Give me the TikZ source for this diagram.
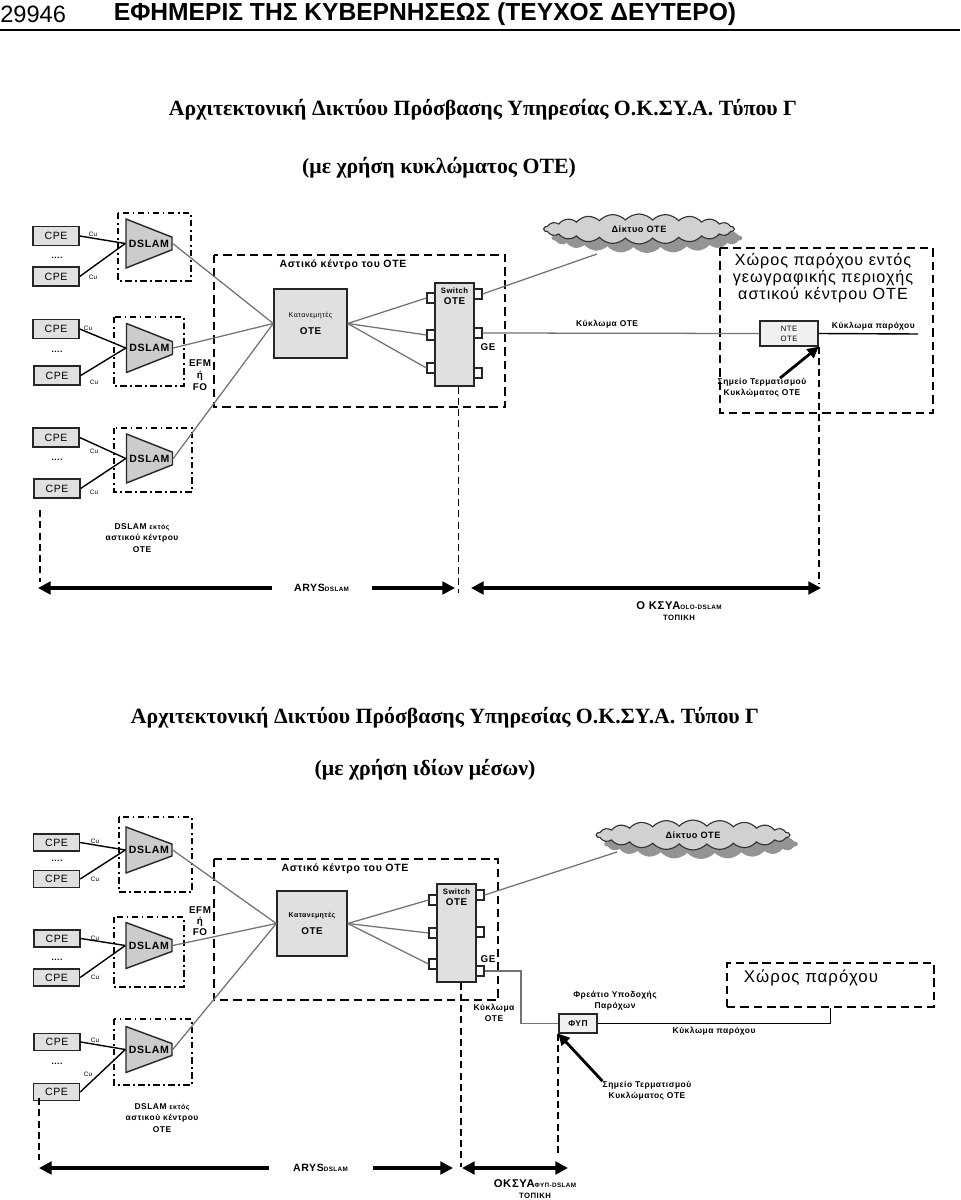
\documentclass[tikz,border=0pt]{standalone}
\usepackage{fontspec}
\setmainfont{Liberation Sans}
\newfontfamily\tserif{Liberation Serif}
\newfontfamily\vsans[LetterSpace=6]{Liberation Sans}
\usetikzlibrary{shapes.geometric,shapes.symbols,shadows,arrows.meta,positioning}

\newlength{\pix}
\setlength{\pix}{0.025cm}
\newcommand{\fsz}[2]{\fontsize{#1}{#2}\selectfont}

\tikzset{
  cpebox/.style={draw=black!85, line width=1pt, fill=black!12, minimum width=46\pix, minimum height=19\pix, inner sep=0pt, font=\vsans\fsz{7.5}{9}},
  dslambox/.style={trapezium, trapezium angle=75, trapezium stretches=true, shape border rotate=270, draw=black!85, line width=1pt, fill=black!20, minimum width=49\pix, minimum height=46\pix, inner sep=0pt, font=\vsans\bfseries\fsz{7.5}{9}},
  otebox/.style={draw=black!85, line width=1pt, fill=black!12, inner sep=0pt, align=center},
  portbox/.style={draw=black!85, line width=0.8pt, fill=white, minimum width=8\pix, minimum height=10\pix, inner sep=0pt},
  cloudnet/.style={cloud, cloud puffs=22, cloud puff arc=95, aspect=6, draw=black!80, line width=0.8pt, fill=black!18, minimum width=190\pix, minimum height=30\pix, inner sep=0pt, font=\vsans\bfseries\fsz{6.5}{8}, drop shadow={shadow xshift=8\pix, shadow yshift=-9\pix, fill=black!42, opacity=1}},
  cuwire/.style={draw=black, line width=1pt},
  fibre/.style={draw=black!55, line width=0.9pt},
  cityframe/.style={draw=black, line width=1.4pt, dash pattern=on 6pt off 3.5pt},
  dslamframe/.style={draw=black, line width=1.4pt, dash pattern=on 4.5pt off 2.5pt on 1.2pt off 2.5pt},
  guideline/.style={draw=black, line width=1.3pt, dash pattern=on 5pt off 3pt},
  dimarrow/.style={line width=2.2pt, {Triangle[length=9pt,width=9pt]}-{Triangle[length=9pt,width=9pt]}},
  termarrow/.style={line width=2pt, -{Triangle[length=8pt,width=8pt]}},
  lbl/.style={inner sep=0pt, align=center, font=\vsans\bfseries\fsz{6}{8}},
  cu/.style={inner sep=0pt, font=\vsans\fsz{4.5}{5}},
  titletext/.style={inner sep=0pt, font=\tserif\bfseries\fsz{15.5}{17}},
}

\begin{document}
\begin{tikzpicture}[x=0.025cm, y=-0.025cm]

\useasboundingbox (0,0) rectangle (960,1200);

% page header
\node[anchor=west, inner sep=0pt, font=\fsz{16.8}{17}] (pageno) at (0,14) {29946};
\node[inner sep=0pt, font=\bfseries\fsz{17.5}{18}] (gazette) at (425,14) {ΕΦΗΜΕΡΙΣ ΤΗΣ ΚΥΒΕΡΝΗΣΕΩΣ (ΤΕΥΧΟΣ ΔΕΥΤΕΡΟ)};
\draw[line width=1.4pt] (0,30) -- (960,30);

\node[titletext] (titleA) at (483,110) {Αρχιτεκτονική Δικτύου Πρόσβασης Υπηρεσίας Ο.Κ.ΣΥ.Α. Τύπου Γ};
\node[titletext] (subA) at (439,168) {(με χρήση κυκλώματος ΟΤΕ)};

% ---- first diagram
\node[cpebox] (cpeA1) at (56,236) {CPE};
\node[cpebox] (cpeA2) at (56,276.5) {CPE};
\node[cpebox] (cpeA3) at (56,329) {CPE};
\node[cpebox] (cpeA4) at (57,375.5) {CPE};
\node[cpebox] (cpeA5) at (56,437.5) {CPE};
\node[cpebox] (cpeA6) at (57,488.5) {CPE};
\node[lbl] (dotsA1) at (57,258) {....};
\node[lbl] (dotsA2) at (57,352) {....};
\node[lbl] (dotsA3) at (57,460) {....};

\node[dslambox] (dslA1) at (149,243.5) {DSLAM};
\node[dslambox] (dslA2) at (149.5,348) {DSLAM};
\node[dslambox] (dslA3) at (149.5,458.5) {DSLAM};

\draw[dslamframe] (118,213) rectangle (191,281);
\draw[dslamframe] (114,317) rectangle (184,386);
\draw[dslamframe] (114,428) rectangle (192,492);

\draw[cuwire] (cpeA1.east) -- (dslA1.west);
\draw[cuwire] (cpeA2.east) -- (dslA1.west);
\draw[cuwire] (cpeA3.east) -- (dslA2.west);
\draw[cuwire] (cpeA4.east) -- (dslA2.west);
\draw[cuwire] (cpeA5.east) -- (dslA3.west);
\draw[cuwire] (cpeA6.east) -- (dslA3.west);
\node[cu] (cuA1) at (93,234) {Cu};
\node[cu] (cuA2) at (93,277) {Cu};
\node[cu] (cuA3) at (88,328) {Cu};
\node[cu] (cuA4) at (94,382) {Cu};
\node[cu] (cuA5) at (94,451) {Cu};
\node[cu] (cuA6) at (94,492) {Cu};

\node[lbl, font=\vsans\bfseries\fsz{7}{8.5}] (efmA) at (200,375) {EFM\\ή\\FO};

\draw[cityframe] (214,255) rectangle (505,407);
\node[lbl, font=\vsans\bfseries\fsz{7.5}{9}] (cityA) at (343,265) {Αστικό κέντρο του ΟΤΕ};

\node[otebox, minimum width=73\pix, minimum height=69\pix] (katA) at (310.5,323.5) {{\vsans\fsz{5}{7}Κατανεμητές}\\{\vsans\bfseries\fsz{7}{8}ΟΤΕ}};

\node[otebox, minimum width=39\pix, minimum height=103\pix] (swA) at (454.5,334.5) {};
\node[lbl, below=5\pix of swA.north] (swtxtA) {{\fsz{5.5}{7}Switch}\\{\fsz{7}{8}ΟΤΕ}};
\node[portbox] (pA1) at (431,298) {};
\node[portbox] (pA2) at (431,335) {};
\node[portbox] (pA3) at (431,368) {};
\node[portbox] (qA1) at (478,294) {};
\node[portbox] (qA2) at (478,333) {};
\node[portbox] (qA3) at (478,373) {};
\node[lbl, font=\vsans\bfseries\fsz{7}{8}] (geA) at (488,347) {GE};

\draw[fibre] (dslA1.east) -- (katA.west);
\draw[fibre] (dslA2.east) -- (katA.west);
\draw[fibre] (dslA3.east) -- (katA.west);
\draw[fibre] (katA.east) -- (pA1.west);
\draw[fibre] (katA.east) -- (pA2.west);
\draw[fibre] (katA.east) -- (pA3.west);

\node[cloudnet] (netA) at (639,229) {Δίκτυο ΟΤΕ};
\coordinate (netAin) at (597,254);
\draw[fibre] (qA1.east) -- (netAin);

\draw[cityframe] (720,248) rectangle (933,413);
\node[inner sep=0pt, align=center, font=\vsans\fsz{11.5}{11.8}] (provA) at (823,278) {Χώρος παρόχου εντός\\γεωγραφικής περιοχής\\αστικού κέντρου ΟΤΕ};

\node[otebox, fill=black!6, minimum width=58\pix, minimum height=25\pix, font=\vsans\fsz{5.5}{7}] (nteA) at (789,333.5) {NTE\\ΟΤΕ};
\draw[fibre] (qA2.east) -- node[lbl, pos=.45, above=4\pix] {Κύκλωμα ΟΤΕ} (nteA.west);
\coordinate (provendA) at (918,334);
\draw[cuwire] (nteA.east) -- node[lbl, pos=.55, above=3\pix] {Κύκλωμα παρόχου} (provendA);

\node[lbl] (termA) at (762,388) {Σημείο Τερματισμού\\Κυκλώματος ΟΤΕ};
\draw[termarrow] ([xshift=18\pix]termA.north) -- (nteA.south east);

\node[lbl] (outA) at (142,538) {DSLAM {\fsz{5}{8}εκτός}\\αστικού κέντρου\\ΟΤΕ};

\coordinate (gA1) at (40,510);
\draw[guideline] (gA1) -- ++(0,72);
\draw[guideline] ([xshift=4\pix]swA.south) -- ++(0,206);
\draw[guideline] (nteA.south east) -- ++(0,237);

\coordinate (arA1) at (38,588);
\coordinate (arA2) at (455,588);
\coordinate (arA3) at (471,588);
\coordinate (arA4) at (821,588);
\draw[dimarrow] (arA1) -- node[pos=.68, fill=white, minimum width=100\pix, inner ysep=2pt, font=\vsans\bfseries\fsz{7.5}{9}] (arysA) {ARYS{\fsz{4.5}{5}DSLAM}} (arA2);
\draw[dimarrow] (arA3) -- (arA4);
\node[lbl] (okA) at (679,611) {{\fsz{8}{9}Ο ΚΣΥΑ}{\fsz{4.5}{5}OLO-DSLAM}\\{\fsz{5.5}{8}ΤΟΠΙΚΗ}};

% ---- second diagram
\node[titletext] (titleB) at (445,718) {Αρχιτεκτονική Δικτύου Πρόσβασης Υπηρεσίας Ο.Κ.ΣΥ.Α. Τύπου Γ};
\node[titletext] (subB) at (425,770) {(με χρήση ιδίων μέσων)};

\node[cpebox, minimum height=17\pix] (cpeB1) at (56.5,842.5) {CPE};
\node[cpebox, minimum height=17\pix] (cpeB2) at (56.5,879) {CPE};
\node[cpebox, minimum height=17\pix] (cpeB3) at (57,938.5) {CPE};
\node[cpebox, minimum height=17\pix] (cpeB4) at (56.5,977.5) {CPE};
\node[cpebox, minimum height=17\pix] (cpeB5) at (57,1042) {CPE};
\node[cpebox, minimum height=17\pix] (cpeB6) at (56.5,1092) {CPE};
\node[lbl] (dotsB1) at (57,861) {....};
\node[lbl] (dotsB2) at (57,960) {....};
\node[lbl] (dotsB3) at (57,1064) {....};

\node[dslambox, minimum width=46\pix] (dslB1) at (149,850) {DSLAM};
\node[dslambox, minimum width=46\pix] (dslB2) at (149,945.5) {DSLAM};
\node[dslambox, minimum width=46\pix] (dslB3) at (149,1049.5) {DSLAM};

\draw[dslamframe] (119,817) rectangle (192,892);
\draw[dslamframe] (114,917) rectangle (184,987);
\draw[dslamframe] (114,1019) rectangle (192,1085);

\draw[cuwire] (cpeB1.east) -- (dslB1.west);
\draw[cuwire] (cpeB2.east) -- (dslB1.west);
\draw[cuwire] (cpeB3.east) -- (dslB2.west);
\draw[cuwire] (cpeB4.east) -- (dslB2.west);
\draw[cuwire] (cpeB5.east) -- (dslB3.west);
\draw[cuwire] (cpeB6.east) -- (dslB3.west);
\node[cu] (cuB1) at (95,841) {Cu};
\node[cu] (cuB2) at (95,879) {Cu};
\node[cu] (cuB3) at (95,938) {Cu};
\node[cu] (cuB4) at (95,977) {Cu};
\node[cu] (cuB5) at (95,1040) {Cu};
\node[cu] (cuB6) at (88,1074) {Cu};

\node[lbl, font=\vsans\bfseries\fsz{7}{8}] (efmB) at (200,921) {EFM\\ή\\FO};

\draw[cityframe] (214,859) rectangle (498,1000);
\node[lbl, font=\vsans\bfseries\fsz{7.5}{9}] (cityB) at (345,869) {Αστικό κέντρο του ΟΤΕ};

\node[otebox, minimum width=70\pix, minimum height=65\pix] (katB) at (312,923.5) {{\vsans\bfseries\fsz{5}{7}Κατανεμητές}\\{\vsans\bfseries\fsz{7}{8}ΟΤΕ}};

\node[otebox, minimum width=39\pix, minimum height=98\pix] (swB) at (456.5,933) {};
\node[lbl, below=5\pix of swB.north] (swtxtB) {{\fsz{5.5}{7}Switch}\\{\fsz{7}{8}ΟΤΕ}};
\node[portbox] (pB1) at (433,900) {};
\node[portbox] (pB2) at (433,933) {};
\node[portbox] (pB3) at (433,964) {};
\node[portbox] (qB1) at (480,895) {};
\node[portbox] (qB2) at (480,932) {};
\node[portbox] (qB3) at (480,971) {};
\node[lbl, font=\vsans\bfseries\fsz{7}{8}] (geB) at (488,959) {GE};

\draw[fibre] (dslB1.east) -- (katB.west);
\draw[fibre] (dslB2.east) -- (katB.west);
\draw[fibre] (dslB3.east) -- (katB.west);
\draw[fibre] (katB.east) -- (pB1.west);
\draw[fibre] (katB.east) -- (pB2.west);
\draw[fibre] (katB.east) -- (pB3.west);

\node[cloudnet, minimum width=193\pix] (netB) at (693,835) {Δίκτυο ΟΤΕ};
\coordinate (netBin) at (617,852);
\draw[fibre] (qB1.east) -- (netBin);

\node[lbl] (kykB) at (494,1013) {Κύκλωμα\\ΟΤΕ};

\node[otebox, fill=black!6, minimum width=38\pix, minimum height=19\pix, font=\vsans\bfseries\fsz{6}{7}] (fypB) at (578,1023.5) {ΦΥΠ};
\node[lbl] (freatB) at (615,1001) {Φρεάτιο Υποδοχής\\Παρόχων};

\node[cityframe, minimum width=207\pix, minimum height=44\pix] (provB) at (830.5,985) {};
\node[inner sep=0pt, font=\vsans\fsz{12}{13}] (provtxtB) at (811,978) {Χώρος παρόχου};

\coordinate (bendB) at (521,1000);
\draw[fibre] (qB3.east) -| (bendB) |- (fypB.west);
\draw[cuwire] (fypB.east) -| node[lbl, pos=.25, below=3\pix] {Κύκλωμα παρόχου} (provB.south);

\node[lbl] (termB) at (647,1091) {Σημείο Τερματισμού\\Κυκλώματος ΟΤΕ};
\draw[termarrow] (termB.north west) -- (fypB.south west);

\node[lbl] (outB) at (162,1118) {DSLAM {\fsz{5}{8}εκτός}\\αστικού κέντρου\\ΟΤΕ};

\coordinate (gB1) at (39,1098);
\draw[guideline] (gB1) -- ++(0,62);
\draw[guideline] ([xshift=4.5\pix]swB.south) -- ++(0,184);
\draw[guideline] (fypB.south west) -- ++(0,122);

\coordinate (arB1) at (39,1168);
\coordinate (arB2) at (453,1168);
\coordinate (arB3) at (462,1168);
\coordinate (arB4) at (568,1168);
\draw[dimarrow] (arB1) -- node[pos=.68, fill=white, minimum width=104\pix, inner ysep=2pt, font=\vsans\bfseries\fsz{7.5}{9}] (arysB) {ARYS{\fsz{4.5}{5}DSLAM}} (arB2);
\draw[dimarrow] (arB3) -- (arB4);
\node[lbl] (okB) at (535,1189) {{\fsz{8}{9}ΟΚΣΥΑ}{\fsz{4.5}{5}ΦΥΠ-DSLAM}\\{\fsz{5.5}{8}ΤΟΠΙΚΗ}};

\end{tikzpicture}
\end{document}
